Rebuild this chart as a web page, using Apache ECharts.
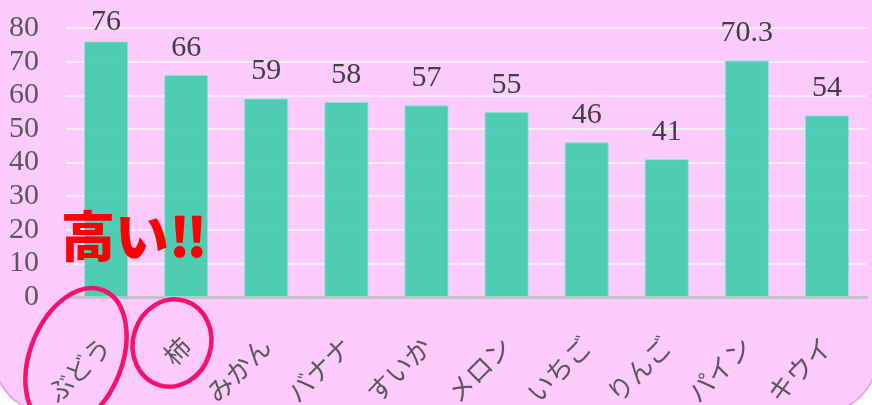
<!DOCTYPE html>
<html>
<head>
<meta charset="utf-8">
<script src="https://cdn.jsdelivr.net/npm/echarts@6/dist/echarts.min.js"></script>
<style>
html,body{margin:0;padding:0;background:#ffffff;}
#main{width:872px;height:405px;}
</style>
</head>
<body>
<div id="main"></div>
<script>
const categories = ['ぶどう','柿','みかん','バナナ','すいか','メロン','いちご','りんご','パイン','キウイ'];
const values = [76, 66, 59, 58, 57, 55, 46, 41, 70.3, 54];
const yTicks = [0, 10, 20, 30, 40, 50, 60, 70, 80];

const maxVal = Math.max.apply(null, values);
const seriesData = values.map(v => v === maxVal
  ? {value: v, label: {distance: 4}}
  : {value: v});

const chart = echarts.init(document.getElementById('main'), null, {renderer:'canvas'});
const option = {
  backgroundColor: 'transparent',
  animation: false,
  grid: {left: 66, right: 5, top: 28, bottom: 108, containLabel: false, outerBoundsMode: 'none'},
  xAxis: {
    type: 'category',
    data: categories,
    axisLine: {lineStyle: {color: '#c4c0c4', width: 3}},
    axisTick: {show: false},
    axisLabel: {
      interval: 0, rotate: 45, margin: 45,
      fontSize: 26, color: '#595959',
      fontFamily: '"Noto Sans CJK JP", sans-serif'
    }
  },
  yAxis: {
    type: 'value',
    min: yTicks[0], max: yTicks[yTicks.length-1], interval: 10,
    axisLine: {show: false},
    axisTick: {show: false},
    splitLine: {lineStyle: {color: '#f2eef2', width: 2}},
    axisLabel: {
      margin: 27, fontSize: 30, color: '#595959',
      fontFamily: '"Liberation Serif", "DejaVu Serif", serif'
    }
  },
  series: [{
    type: 'bar',
    data: seriesData,
    barWidth: '55%',
    itemStyle: {color: 'rgba(64,204,174,0.92)', borderColor: 'rgba(140,230,210,0.8)', borderWidth: 1},
    label: {
      show: true, position: 'top', distance: 12,
      fontSize: 30, color: '#404040',
      fontFamily: '"Liberation Serif", "DejaVu Serif", serif'
    }
  }],
  graphic: [
    {
      type: 'rect', z: -100, silent: true,
      shape: {x: -7, y: -100, width: 885, height: 514, r: 60},
      style: {fill: '#fccafc', stroke: '#f3a2f3', lineWidth: 2}
    },
    {
      type: 'text', z: 100, silent: true,
      style: {
        text: '高い‼', x: 61, y: 236,
        textVerticalAlign: 'middle', textAlign: 'left',
        font: '900 54px "Noto Sans CJK JP", sans-serif',
        fill: '#ff0000'
      }
    },
    {
      type: 'ellipse', z: 100, silent: true,
      x: 76, y: 358, rotation: -0.38,
      shape: {cx: 0, cy: 0, rx: 46, ry: 73},
      style: {fill: 'none', stroke: '#f5116c', lineWidth: 4.5}
    },
    {
      type: 'ellipse', z: 100, silent: true,
      x: 172, y: 343, rotation: -0.3,
      shape: {cx: 0, cy: 0, rx: 39, ry: 44},
      style: {fill: 'none', stroke: '#f5116c', lineWidth: 4.5}
    }
  ]
};
chart.setOption(option);
</script>
</body>
</html>
